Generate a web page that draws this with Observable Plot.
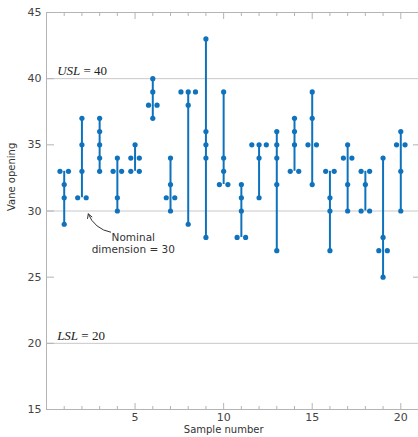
<!DOCTYPE html>
<html><head><meta charset="utf-8">
<script src="https://cdn.jsdelivr.net/npm/d3@7"></script>
<script src="https://cdn.jsdelivr.net/npm/@observablehq/plot@0.6"></script>
<style>body{margin:0;background:#fff;} svg{display:block;}</style>
</head><body><div id="chart"></div>
<script>
// Sample numbers and the five observations per sample (vane opening)
const sampleNumber = [1,2,3,4,5,6,7,8,9,10,11,12,13,14,15,16,17,18,19,20];
const obs1 = [33,33,35,30,33,38,30,29,28,39,28,31,27,33,35,33,35,32,25,35];
const obs2 = [29,31,37,31,34,37,31,39,34,33,30,35,32,33,37,33,34,33,27,35];
const obs3 = [31,35,33,33,35,39,32,38,35,32,28,35,34,35,32,27,34,30,34,36];
const obs4 = [32,37,34,34,33,40,34,39,36,34,32,35,35,37,35,31,30,30,27,33];
const obs5 = [33,31,36,33,34,38,31,39,43,32,31,34,36,36,39,30,32,33,28,30];

// Specification lines
const specValues = [40, 30, 20];
const specLabels = [{label: "USL = 40", value: 40}, {label: "LSL = 20", value: 20}];
const yTicks = [15, 20, 25, 30, 35, 40, 45];
const xMajorTicks = [5, 10, 15, 20];
const xMinorTicks = [1,2,3,4,6,7,8,9,11,12,13,14,16,17,18,19,21];
const nominalNote = [{text: "Nominal\ndimension = 30", x: 4.9, y: 27.6}];
const nominalArrow = [{x1: 3.62, y1: 28.4, x2: 2.36, y2: 29.78}];

const blue = "#0f72bd";
const axisGray = "#b4b4b4";
const font = "DejaVu Sans";

// Build tables
const points = [];
const ranges = [];
sampleNumber.forEach((s, i) => {
  const vals = [obs1[i], obs2[i], obs3[i], obs4[i], obs5[i]];
  ranges.push({sample: s, lo: d3.min(vals), hi: d3.max(vals)});
  const counts = d3.rollup(vals, v => v.length, v => v);
  for (const [v, n] of counts) {
    const offs = n === 1 ? [0] : n === 2 ? [-0.24, 0.24] : n === 3 ? [-0.41, 0, 0.41] : d3.range(n).map(k => (k - (n-1)/2) * 0.4);
    offs.forEach(o => points.push({sample: s, value: v, xo: s + o}));
  }
});

const chart = Plot.plot({
  width: 418,
  height: 437,
  marginLeft: 46,
  marginRight: 0,
  marginTop: 12,
  marginBottom: 28,
  style: {fontFamily: font, fontSize: "11px", color: "#444", background: "#fff"},
  x: {domain: [0, 21], label: null},
  y: {domain: [15, 45], label: null},
  marks: [
    Plot.ruleY(specValues, {stroke: "#c8c8c8", strokeWidth: 1}),
    Plot.ruleX([0], {stroke: axisGray}),
    Plot.ruleY([15], {stroke: axisGray}),
    Plot.ruleY([45], {stroke: axisGray}),
    Plot.axisY(yTicks, {anchor: "left", tickSize: -8, tickPadding: 13, stroke: axisGray, fill: "#444", label: null}),
    Plot.axisY([25, 35], {anchor: "right", tickSize: -6, tickFormat: () => "", stroke: axisGray, label: null}),
    Plot.axisX(xMajorTicks, {anchor: "bottom", tickSize: -6, tickPadding: 10, stroke: axisGray, fill: "#444", label: null}),
    Plot.axisX(xMinorTicks, {anchor: "bottom", tickSize: -3, tickFormat: () => "", stroke: axisGray, label: null}),
    Plot.axisX(xMajorTicks, {anchor: "top", tickSize: -6, tickFormat: () => "", stroke: axisGray, label: null}),
    Plot.axisX(xMinorTicks, {anchor: "top", tickSize: -3, tickFormat: () => "", stroke: axisGray, label: null}),
    Plot.ruleX(ranges, {x: "sample", y1: "lo", y2: "hi", stroke: blue, strokeWidth: 2}),
    Plot.dot(points, {x: "xo", y: "value", r: 2.6, fill: blue, stroke: "none"}),
    Plot.text(specLabels, {x: () => 0.6, y: "value", text: "label", textAnchor: "start", dy: -8, fontFamily: "Liberation Serif", fontSize: 13, fill: "#222"}),
    Plot.text(nominalNote, {x: "x", y: "y", text: "text", fontFamily: font, fontSize: 10.5, fill: "#333", lineHeight: 1.15}),
    Plot.arrow(nominalArrow, {x1: "x1", y1: "y1", x2: "x2", y2: "y2", bend: 30, headLength: 7, stroke: "#333", strokeWidth: 1}),
    Plot.text([{x: 10, label: "Sample number"}], {x: "x", text: "label", frameAnchor: "bottom", dy: 23, fontFamily: font, fontSize: 10, fill: "#333"}),
    Plot.text([{y: 30, label: "Vane opening"}], {y: "y", text: "label", frameAnchor: "left", dx: -35, rotate: -90, fontFamily: font, fontSize: 10, fill: "#333"})
  ]
});

// Italicize the USL / LSL symbols
chart.querySelectorAll("text").forEach(t => {
  const m = /^(USL|LSL)( = \d+)$/.exec(t.textContent);
  if (m) {
    t.textContent = "";
    const ns = "http://www.w3.org/2000/svg";
    const a = document.createElementNS(ns, "tspan");
    a.setAttribute("font-style", "italic");
    a.textContent = m[1];
    const b = document.createElementNS(ns, "tspan");
    b.textContent = m[2];
    t.appendChild(a); t.appendChild(b);
  }
});

document.getElementById("chart").appendChild(chart);
</script>
</body></html>
